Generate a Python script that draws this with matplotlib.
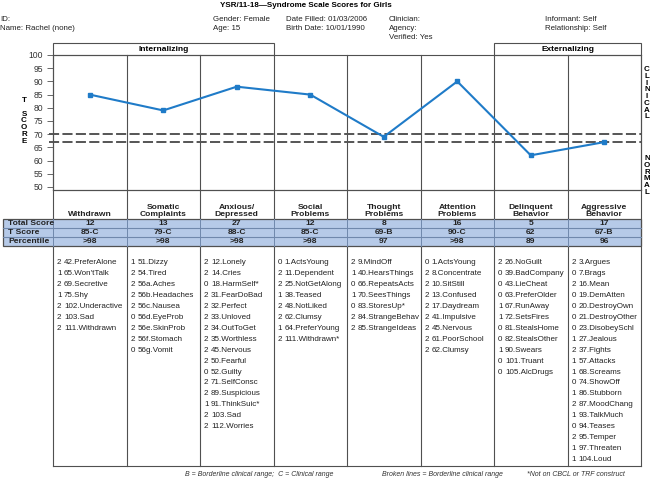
import matplotlib
matplotlib.use('Agg')
import matplotlib.pyplot as plt
from matplotlib.patches import Rectangle

plt.rcParams['font.family'] = ['Liberation Sans', 'DejaVu Sans']

# syndrome scales and their scores
scales = ['Withdrawn', 'Somatic\nComplaints', 'Anxious/\nDepressed', 'Social\nProblems',
          'Thought\nProblems', 'Attention\nProblems', 'Delinquent\nBehavior', 'Aggressive\nBehavior']
t_scores = [85, 79, 88, 85, 69, 90, 62, 67]
total_scores = [12, 13, 27, 12, 8, 16, 5, 17]
range_codes = ['C', 'C', 'C', 'C', 'B', 'C', '', 'B']
percentiles = ['>98', '>98', '>98', '>98', '97', '>98', '89', '96']
y_ticks = [50, 55, 60, 65, 70, 75, 80, 85, 90, 95, 100]
borderline = [70, 67]

# item scores per scale
items_withdrawn = [(2, '42.PreferAlone'), (1, "65.Won'tTalk"), (2, '69.Secretive'), (1, '75.Shy'),
                   (2, '102.Underactive'), (2, '103.Sad'), (2, '111.Withdrawn')]
items_somatic = [(1, '51.Dizzy'), (2, '54.Tired'), (2, '56a.Aches'), (2, '56b.Headaches'),
                 (2, '56c.Nausea'), (0, '56d.EyeProb'), (2, '56e.SkinProb'), (2, '56f.Stomach'),
                 (0, '56g.Vomit')]
items_anxious = [(2, '12.Lonely'), (2, '14.Cries'), (0, '18.HarmSelf*'), (2, '31.FearDoBad'),
                 (2, '32.Perfect'), (2, '33.Unloved'), (2, '34.OutToGet'), (2, '35.Worthless'),
                 (2, '45.Nervous'), (2, '50.Fearful'), (0, '52.Guilty'), (2, '71.SelfConsc'),
                 (2, '89.Suspicious'), (1, '91.ThinkSuic*'), (2, '103.Sad'), (2, '112.Worries')]
items_social = [(0, '1.ActsYoung'), (2, '11.Dependent'), (2, '25.NotGetAlong'), (1, '38.Teased'),
                (2, '48.NotLiked'), (2, '62.Clumsy'), (1, '64.PreferYoung'), (2, '111.Withdrawn*')]
items_thought = [(2, '9.MindOff'), (1, '40.HearsThings'), (0, '66.RepeatsActs'), (1, '70.SeesThings'),
                 (0, '83.StoresUp*'), (2, '84.StrangeBehav'), (2, '85.StrangeIdeas')]
items_attention = [(0, '1.ActsYoung'), (2, '8.Concentrate'), (2, '10.SitStill'), (2, '13.Confused'),
                   (2, '17.Daydream'), (2, '41.Impulsive'), (2, '45.Nervous'), (2, '61.PoorSchool'),
                   (2, '62.Clumsy')]
items_delinquent = [(2, '26.NoGuilt'), (0, '39.BadCompany'), (0, '43.LieCheat'), (0, '63.PreferOlder'),
                    (1, '67.RunAway'), (1, '72.SetsFires'), (0, '81.StealsHome'), (0, '82.StealsOther'),
                    (1, '90.Swears'), (0, '101.Truant'), (0, '105.AlcDrugs')]
items_aggressive = [(2, '3.Argues'), (0, '7.Brags'), (2, '16.Mean'), (0, '19.DemAtten'),
                    (0, '20.DestroyOwn'), (0, '21.DestroyOther'), (0, '23.DisobeySchl'), (1, '27.Jealous'),
                    (2, '37.Fights'), (1, '57.Attacks'), (1, '68.Screams'), (0, '74.ShowOff'),
                    (1, '86.Stubborn'), (2, '87.MoodChang'), (1, '93.TalkMuch'), (0, '94.Teases'),
                    (2, '95.Temper'), (1, '97.Threaten'), (1, '104.Loud')]
items = [items_withdrawn, items_somatic, items_anxious, items_social,
         items_thought, items_attention, items_delinquent, items_aggressive]

W, H = 650, 479
LC = '#505050'
BLUE = '#1f7bc8'
fig = plt.figure(figsize=(W / 100, H / 100), dpi=100)

# full-figure axes in pixel units for the form layout
bg = fig.add_axes([0, 0, 1, 1])
bg.set_xlim(0, W)
bg.set_ylim(H, 0)
bg.axis('off')

x0, x1 = 53, 641
top, y50, ybot, bottom = 55, 187, 190, 466
n = len(scales)
col_w = (x1 - x0) / n
edges = [x0 + i * col_w for i in range(n + 1)]
centers = [x0 + (i + 0.5) * col_w for i in range(n)]

# header
bg.text(306, 5, 'YSR/11-18\u2014Syndrome Scale Scores for Girls', ha='center', va='center',
        fontsize=5.8, fontweight='bold')
hdr = [(0, ['ID:', 'Name: Rachel (none)']),
       (213, ['Gender: Female', 'Age: 15']),
       (286, ['Date Filled: 01/03/2006', 'Birth Date: 10/01/1990']),
       (389, ['Clinician:', 'Agency:', 'Verified: Yes']),
       (545, ['Informant: Self', 'Relationship: Self'])]
for hx, lines in hdr:
    for k, s in enumerate(lines):
        bg.text(hx, 19 + k * 9.3, s, ha='left', va='center', fontsize=5.7, color='#222')

# internalizing / externalizing boxes
for a, b, lab in [(0, 3, 'Internalizing'), (6, 8, 'Externalizing')]:
    bg.add_patch(Rectangle((edges[a], 43), edges[b] - edges[a], top - 43,
                           fill=False, edgecolor=LC, lw=0.8))
    bg.text((edges[a] + edges[b]) / 2, 49.5, lab, ha='center', va='center',
            fontsize=6.0, fontweight='bold')

# column frame lines
for e in edges:
    bg.plot([e, e], [top, bottom], color=LC, lw=0.8)
bg.plot([x0, x1], [bottom, bottom], color=LC, lw=0.8)
bg.plot([x0, x1], [ybot, ybot], color=LC, lw=0.8)

# scale names
for c, s in zip(centers, scales):
    bg.text(c, 218.5, s, ha='center', va='bottom', fontsize=6.1, fontweight='bold',
            linespacing=1.05, multialignment='center', color='#222')

# score table
rows = [219, 228, 237, 246]
bg.add_patch(Rectangle((3, rows[0]), x1 - 3, rows[-1] - rows[0], facecolor='#b6cae8',
                       edgecolor=LC, lw=0.9, zorder=2))
for r in rows[1:-1]:
    bg.plot([3, x1], [r, r], color='#7088ac', lw=0.8, zorder=3)
for e in edges[:-1]:
    bg.plot([e, e], [rows[0], rows[-1]], color='#7088ac', lw=0.7, zorder=3)
row_labels = ['Total Score', 'T Score', 'Percentile']
t_labels = [f'{t}-{c}' if c else f'{t}' for t, c in zip(t_scores, range_codes)]
row_vals = [[str(v) for v in total_scores], t_labels, percentiles]
for k, (lab, vals) in enumerate(zip(row_labels, row_vals)):
    yc = (rows[k] + rows[k + 1]) / 2 + 0.3
    bg.text(8, yc, lab, ha='left', va='center', fontsize=6.1, fontweight='bold', zorder=4,
            color='#222')
    for c, v in zip(centers, vals):
        bg.text(c, yc, v, ha='center', va='center', fontsize=6.1, fontweight='bold', zorder=4,
                color='#222')

# item lists
for e, lst in zip(edges, items):
    for k, (sc, name) in enumerate(lst):
        yy = 263 + k * 10.9
        bg.text(e + 4, yy, str(sc), ha='left', va='center', fontsize=5.8, color='#222')
        bg.text(e + 11, yy, name, ha='left', va='center', fontsize=5.8, color='#222')

# side labels
bg.text(24, 97, 'T\n\nS\nC\nO\nR\nE', ha='center', va='top', fontsize=5.8, fontweight='bold',
        linespacing=0.95)
bg.text(647, 66, '\n'.join('CLINICAL'), ha='center', va='top', fontsize=5.8, fontweight='bold',
        linespacing=0.95)
bg.text(647, 155, '\n'.join('NORMAL'), ha='center', va='top', fontsize=5.8, fontweight='bold',
        linespacing=0.95)

# footnotes
bg.text(185, 474, 'B = Borderline clinical range;  C = Clinical range', ha='left', va='center',
        fontsize=5.0, style='italic', color='#333')
bg.text(382, 474, 'Broken lines = Borderline clinical range', ha='left', va='center',
        fontsize=5.0, style='italic', color='#333')
bg.text(527, 474, '*Not on CBCL or TRF construct', ha='left', va='center',
        fontsize=5.0, style='italic', color='#333')

# profile axes
ax = fig.add_axes([x0 / W, 1 - ybot / H, (x1 - x0) / W, (ybot - top) / H], facecolor='none')
ax.set_xlim(-0.5, n - 0.5)
ax.set_ylim(50 - (ybot - y50) / (y50 - top) * 50, 100)
for sp in ax.spines.values():
    sp.set_color(LC)
    sp.set_linewidth(0.8)
ax.set_xticks([])
ax.set_yticks(y_ticks)
ax.tick_params(axis='y', length=4, width=0.6, color=LC, labelsize=6.2, pad=3, labelcolor='#333')
for b in borderline:
    ax.axhline(b, xmin=-0.007, xmax=1.0, color='#555', lw=1.4, dashes=(5.2, 1.7), clip_on=False)
ax.plot(range(n), t_scores, color=BLUE, lw=1.5, marker='s', markersize=3.5, zorder=5)

fig.savefig('out.png', dpi=100)
